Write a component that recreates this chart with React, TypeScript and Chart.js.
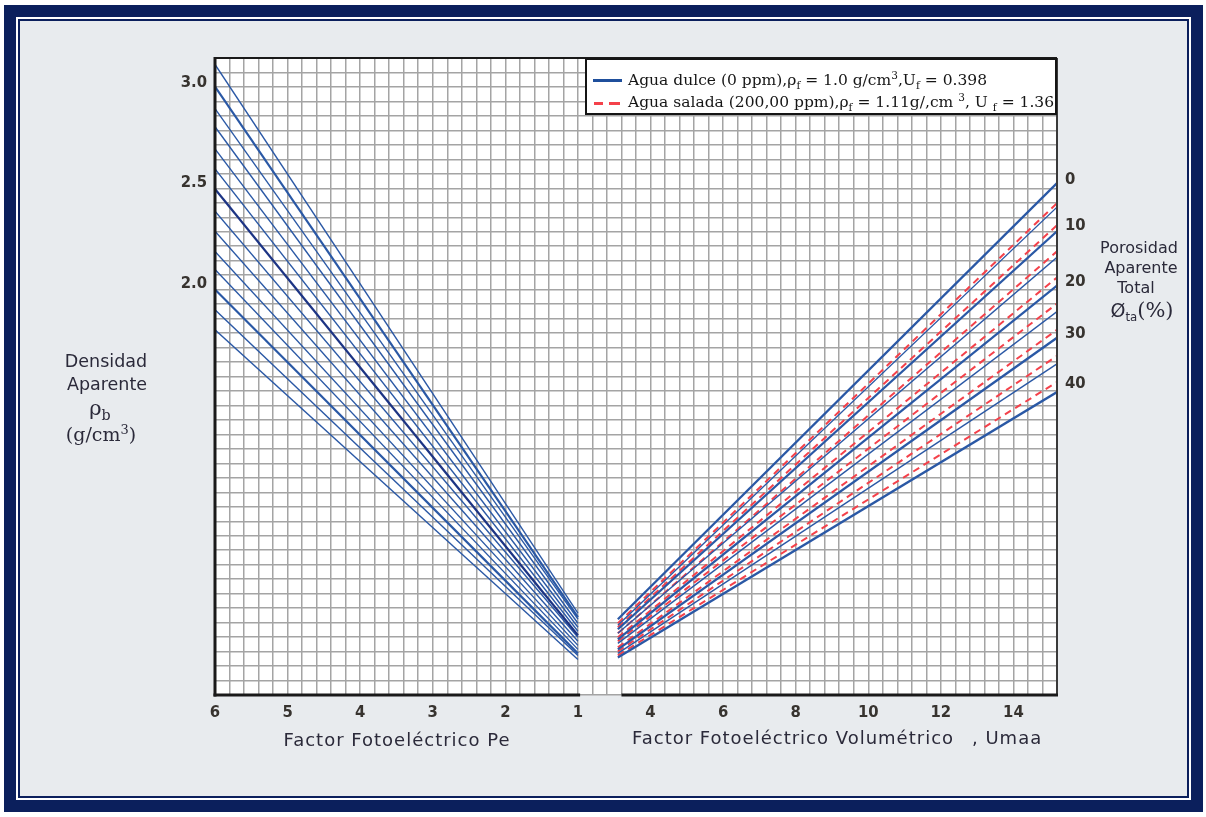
import React, { useEffect, useRef } from 'react';
import { Chart, registerables } from 'chart.js';

Chart.register(...registerables);

// ---------- data ----------
const peTicks = [6, 5, 4, 3, 2, 1];
const umaaTicks = [4, 6, 8, 10, 12, 14];
const densityTicks = [2.0, 2.5, 3.0];
const porosityTickPos = [2.515, 2.286, 2.007, 1.749, 1.5];
const porosityTickLabels = ['0', '10', '20', '30', '40'];

// left panel: lines from Pe = 6 down to Pe = 1 (values on the density scale)
const peLineStart = 6;
const peLineEnd = 1;
const densityAtPe6 = [3.09, 2.98, 2.87, 2.78, 2.67, 2.57, 2.47, 2.36, 2.26, 2.16, 2.07, 1.97, 1.87, 1.77];
const densityAtPe1 = [0.36, 0.34, 0.33, 0.31, 0.29, 0.27, 0.25, 0.24, 0.22, 0.2, 0.18, 0.16, 0.15, 0.13];

// right panel: porosity lines from Umaa = 3.1 to Umaa = 15.2
const umaaLineStart = 3.1;
const umaaLineEnd = 15.2;
const freshAtStart = [0.33, 0.3, 0.28, 0.26, 0.23, 0.21, 0.18, 0.16, 0.14];
const freshAtEnd = [2.5, 2.38, 2.26, 2.13, 1.99, 1.86, 1.73, 1.6, 1.46];
const saltAtStart = [0.31, 0.29, 0.26, 0.24, 0.22, 0.19, 0.17, 0.15];
const saltAtEnd = [2.4, 2.29, 2.16, 2.03, 1.9, 1.77, 1.64, 1.51];

// ---------- styling ----------
const NAVY = '#0b1f5c';
const BG = '#e8ebee';
const GRID = '#a4a4a4';
const BLUE = '#2a58a5';
const BLUE_DARK = '#1c3484';
const RED = '#f4414a';
const TICK_COLOR = '#37332f';
const TITLE_COLOR = '#2b2a3a';
const SANS = "'DejaVu Sans', Verdana, sans-serif";
const SERIF = "'DejaVu Serif', 'Liberation Serif', serif";
const TICK_FONT = { family: "'DejaVu Sans Condensed', 'Liberation Sans Narrow', 'Roboto', sans-serif", size: 16.5, weight: 'bold' as const };

const W = 1206;
const H = 817;

const framePlugin = {
  id: 'frameLines',
  afterLayout(chart: any) {
    // let the zero-height Umaa axis draw its labels below the plot
    const s = chart.scales.xU;
    if (s) s.bottom = chart.height;
  },
  beforeDraw(chart: any) {
    const { ctx, chartArea: a } = chart;
    ctx.save();
    ctx.fillStyle = '#ffffff';
    ctx.fillRect(a.left, a.top, a.right - a.left, a.bottom - a.top);
    ctx.restore();
  },
  afterDraw(chart: any) {
    const { ctx, chartArea: a, scales } = chart;
    const seg = (x1: number, y1: number, x2: number, y2: number, w: number, c: string) => {
      ctx.beginPath();
      ctx.lineWidth = w;
      ctx.strokeStyle = c;
      ctx.moveTo(x1, y1);
      ctx.lineTo(x2, y2);
      ctx.stroke();
    };
    ctx.save();
    seg(a.left, a.top, a.right, a.top, 2, '#1a1a1a');
    seg(a.right, a.top, a.right, a.bottom, 2, '#3a3a3a');
    seg(a.left, a.top - 1, a.left, a.bottom + 1.5, 3, '#1a1a1a');
    const breakL = scales.xPe.getPixelForValue(0.97);
    const breakR = scales.xU.getPixelForValue(3.2);
    seg(a.left - 1.5, a.bottom, breakL, a.bottom, 3, '#1a1a1a');
    seg(breakR, a.bottom, a.right + 1, a.bottom, 3, '#1a1a1a');
    ctx.restore();
  },
};

function buildDatasets() {
  const ds: any[] = [];
  densityAtPe6.forEach((v, i) => {
    const thick = i === 1 || i === 6 || i === 11;
    ds.push({
      label: 'rho' + i,
      xAxisID: 'xPe',
      yAxisID: 'y',
      data: [
        { x: peLineStart, y: v },
        { x: peLineEnd, y: densityAtPe1[i] },
      ],
      borderColor: i === 6 ? BLUE_DARK : BLUE,
      borderWidth: thick ? 2.2 : 1.4,
      pointRadius: 0,
      fill: false,
      tension: 0,
    });
  });
  freshAtStart.forEach((v, i) => {
    ds.push({
      label: 'fresh' + i,
      xAxisID: 'xU',
      yAxisID: 'y',
      data: [
        { x: umaaLineStart, y: v },
        { x: umaaLineEnd, y: freshAtEnd[i] },
      ],
      borderColor: BLUE,
      borderWidth: i % 2 === 0 ? 2.3 : 1.4,
      pointRadius: 0,
      fill: false,
      tension: 0,
    });
  });
  saltAtStart.forEach((v, i) => {
    ds.push({
      label: 'salt' + i,
      xAxisID: 'xU',
      yAxisID: 'y',
      data: [
        { x: umaaLineStart, y: v },
        { x: umaaLineEnd, y: saltAtEnd[i] },
      ],
      borderColor: RED,
      borderWidth: 2,
      borderDash: [7, 5],
      pointRadius: 0,
      fill: false,
      tension: 0,
    });
  });
  return ds;
}

const gridTicks = (n: number) => (s: any) => {
  s.ticks = Array.from({ length: n + 1 }, (_, i) => ({ value: i }));
};

function ChartCanvas() {
  const ref = useRef<HTMLCanvasElement | null>(null);
  useEffect(() => {
    if (!ref.current) return;
    const yMin = -0.047;
    const yMax = 3.122;
    const chart = new Chart(ref.current, {
      type: 'line',
      data: { datasets: buildDatasets() },
      plugins: [framePlugin],
      options: {
        animation: false,
        responsive: false,
        devicePixelRatio: 1,
        events: [],
        layout: { padding: { left: 0, right: 0, top: 58, bottom: 0 }, autoPadding: false } as any,
        plugins: { legend: { display: false }, tooltip: { enabled: false } },
        scales: {
          xGrid: {
            type: 'linear',
            position: 'top',
            min: 0,
            max: 58,
            afterBuildTicks: gridTicks(58),
            ticks: { display: false },
            grid: { color: GRID, lineWidth: 1.5, drawTicks: false },
            border: { display: false },
            afterFit: (s: any) => { s.height = 0; },
          },
          yGrid: {
            type: 'linear',
            position: 'left',
            weight: 0,
            min: 0,
            max: 44,
            afterBuildTicks: gridTicks(44),
            ticks: { display: false },
            grid: { color: GRID, lineWidth: 1.5, drawTicks: false },
            border: { display: false },
            afterFit: (s: any) => { s.width = 0; },
          },
          xU: {
            type: 'linear',
            position: 'bottom',
            weight: 0,
            min: -8,
            max: 15.2,
            afterBuildTicks: (s: any) => { s.ticks = umaaTicks.map((v) => ({ value: v })); },
            ticks: { autoSkip: false, maxRotation: 0, padding: 8, color: TICK_COLOR, font: TICK_FONT, callback: (v: any) => String(v) },
            grid: { display: false, drawTicks: false },
            border: { display: false },
            afterFit: (s: any) => { s.height = 0; },
          },
          xPe: {
            type: 'linear',
            position: 'bottom',
            weight: 1,
            reverse: true,
            min: -5.6,
            max: 6,
            afterBuildTicks: (s: any) => { s.ticks = peTicks.map((v) => ({ value: v })); },
            ticks: { autoSkip: false, maxRotation: 0, padding: 8, color: TICK_COLOR, font: TICK_FONT, callback: (v: any) => String(v) },
            grid: { display: false, drawTicks: false },
            border: { display: false },
            afterFit: (s: any) => { s.height = 122; },
          },
          y: {
            type: 'linear',
            position: 'left',
            weight: 1,
            min: yMin,
            max: yMax,
            afterBuildTicks: (s: any) => { s.ticks = densityTicks.map((v) => ({ value: v })); },
            ticks: { autoSkip: false, padding: 8, color: TICK_COLOR, font: TICK_FONT, callback: (v: any) => Number(v).toFixed(1) },
            grid: { display: false, drawTicks: false },
            border: { display: false },
            afterFit: (s: any) => { s.width = 215; },
          },
          yR: {
            type: 'linear',
            position: 'right',
            min: yMin,
            max: yMax,
            afterBuildTicks: (s: any) => { s.ticks = porosityTickPos.map((v) => ({ value: v })); },
            ticks: {
              autoSkip: false,
              padding: 8,
              color: TICK_COLOR,
              font: TICK_FONT,
              callback: (v: any) => {
                const idx = porosityTickPos.findIndex((p) => Math.abs(p - Number(v)) < 1e-6);
                return idx >= 0 ? porosityTickLabels[idx] : '';
              },
            },
            grid: { display: false, drawTicks: false },
            border: { display: false },
            afterFit: (s: any) => { s.width = 149; },
          },
        } as any,
      },
    });
    return () => chart.destroy();
  }, []);
  return <canvas ref={ref} width={W} height={H} style={{ position: 'absolute', left: 0, top: 0, width: W, height: H }} />;
}

const subStyle: React.CSSProperties = { fontSize: '0.68em', verticalAlign: '-0.35em', lineHeight: 0 };
const supStyle: React.CSSProperties = { fontSize: '0.68em', verticalAlign: '0.55em', lineHeight: 0 };

function CT(props: { x: number; y: number; style?: React.CSSProperties; children: React.ReactNode }) {
  const w = 300;
  return (
    <div
      style={{
        position: 'absolute',
        left: props.x - w / 2,
        top: props.y - 15,
        width: w,
        height: 30,
        lineHeight: '30px',
        textAlign: 'center',
        whiteSpace: 'nowrap',
        color: TITLE_COLOR,
        ...props.style,
      }}
    >
      {props.children}
    </div>
  );
}

function LT(props: { x: number; y: number; style?: React.CSSProperties; children: React.ReactNode }) {
  return (
    <div
      style={{
        position: 'absolute',
        left: props.x,
        top: props.y - 15,
        height: 30,
        lineHeight: '30px',
        whiteSpace: 'nowrap',
        color: TITLE_COLOR,
        ...props.style,
      }}
    >
      {props.children}
    </div>
  );
}

export default function App() {
  const box = (l: number, t: number, r: number, b: number, c: string): React.CSSProperties => ({
    position: 'absolute',
    left: l,
    top: t,
    width: r - l,
    height: b - t,
    background: c,
  });
  const leftTitle: React.CSSProperties = { fontFamily: SANS, fontSize: 17.5 };
  const rightTitle: React.CSSProperties = { fontFamily: SANS, fontSize: 16 };
  const bottomTitle: React.CSSProperties = { fontFamily: SANS, fontSize: 18, letterSpacing: '1px' };
  const legendText: React.CSSProperties = { fontFamily: SERIF, fontSize: 15.5, color: '#161616' };
  return (
    <div style={{ position: 'absolute', left: 0, top: 0, width: W, height: H, background: '#ffffff', overflow: 'hidden' }}>
      <div style={box(4, 5, 1203, 812, NAVY)} />
      <div style={box(16, 17, 1191, 800, '#ffffff')} />
      <div style={box(18, 19, 1189, 798, NAVY)} />
      <div style={box(20, 21, 1187, 796, BG)} />
      <ChartCanvas />

      {/* legend */}
      <div
        style={{
          position: 'absolute',
          left: 585,
          top: 58,
          width: 472,
          height: 57,
          border: '2px solid #151515',
          background: '#ffffff',
          boxSizing: 'border-box',
        }}
      />
      <div style={box(593, 79, 622, 81.5, '#1f4f9c')} />
      <div style={box(594, 102, 603, 104.5, RED)} />
      <div style={box(609, 102, 620, 104.5, RED)} />
      <LT x={628} y={80} style={legendText}>
        Agua dulce (0 ppm),ρ<span style={subStyle}>f</span> = 1.0 g/cm<span style={supStyle}>3</span>,U<span style={subStyle}>f</span> = 0.398
      </LT>
      <LT x={628} y={102} style={legendText}>
        Agua salada (200,00 ppm),ρ<span style={subStyle}>f</span> = 1.11g/,cm <span style={supStyle}>3</span>, U <span style={subStyle}>f</span> = 1.36
      </LT>

      {/* left axis title */}
      <CT x={106} y={361} style={leftTitle}>Densidad</CT>
      <CT x={107} y={384} style={leftTitle}>Aparente</CT>
      <CT x={100} y={408} style={{ fontFamily: SERIF, fontSize: 21 }}>
        ρ<span style={subStyle}>b</span>
      </CT>
      <CT x={101} y={434} style={{ fontFamily: SERIF, fontSize: 19 }}>
        (g/cm<span style={supStyle}>3</span>)
      </CT>

      {/* right axis title */}
      <CT x={1139} y={248} style={rightTitle}>Porosidad</CT>
      <CT x={1141} y={268} style={rightTitle}>Aparente</CT>
      <CT x={1136} y={288} style={rightTitle}>Total</CT>
      <CT x={1142} y={310} style={{ fontFamily: SANS, fontSize: 19 }}>
        Ø<span style={{ ...subStyle, fontSize: '0.62em' }}>ta</span>
        <span style={{ fontFamily: SERIF, fontSize: 21 }}>(%)</span>
      </CT>

      {/* bottom axis titles */}
      <CT x={397} y={740} style={bottomTitle}>Factor Fotoeléctrico Pe</CT>
      <LT x={632} y={738} style={bottomTitle}>Factor Fotoeléctrico Volumétrico</LT>
      <LT x={972} y={738} style={bottomTitle}>, Umaa</LT>
    </div>
  );
}
